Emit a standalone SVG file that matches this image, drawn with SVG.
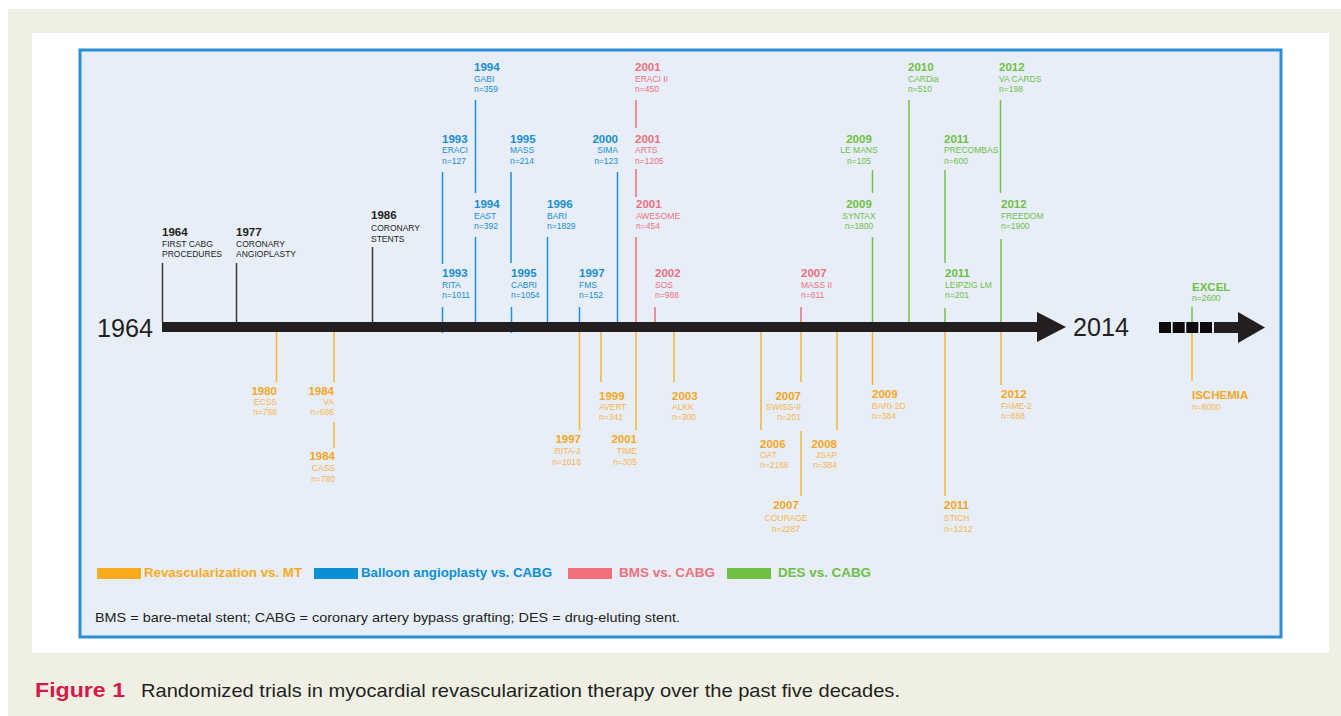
<svg xmlns="http://www.w3.org/2000/svg" width="1341" height="716" viewBox="0 0 1341 716">
<style>
text{font-family:"Liberation Sans",Arial,sans-serif}
.yr{font-weight:bold;font-size:11.5px}
.lb{font-size:8.5px}
.big{font-size:26px;fill:#231f20}
.k{fill:#231f20}
.b{fill:#1a8dd0}
.r{fill:#ef6f7c}
.g{fill:#6fbe45}
.o .yr{fill:#f5a623}
.o .lb{fill:#f7b54a}
.e{text-anchor:end}
.m{text-anchor:middle}
.lk{stroke:#3b3536;stroke-width:1.5}
.lbl{stroke:#1b8fd2;stroke-width:1.5}
.lr{stroke:#ee6f7b;stroke-width:1.5}
.lg{stroke:#75bf4a;stroke-width:1.5}
.lo{stroke:#f8b133;stroke-width:1.5}
.leg{font-weight:bold;font-size:12px}
</style>
<rect x="0" y="0" width="1341" height="716" fill="#ffffff"/>
<rect x="8" y="9" width="1333" height="707" fill="#efefe4"/>
<rect x="32" y="33" width="1297" height="620" fill="#ffffff"/>
<rect x="80" y="50" width="1201" height="587" fill="#e7eef8" stroke="#2a8fd4" stroke-width="3"/>

<g id="connectors" fill="none">
<line class="lk" x1="162.5" y1="263" x2="162.5" y2="322"/>
<line class="lk" x1="236.5" y1="263" x2="236.5" y2="322"/>
<line class="lk" x1="372.5" y1="247" x2="372.5" y2="322"/>
<line class="lbl" x1="475.5" y1="100" x2="475.5" y2="193"/>
<line class="lbl" x1="475.5" y1="237" x2="475.5" y2="322"/>
<line class="lbl" x1="442.5" y1="172" x2="442.5" y2="264"/>
<line class="lbl" x1="442.5" y1="307" x2="442.5" y2="333"/>
<line class="lbl" x1="511" y1="172" x2="511" y2="263"/>
<line class="lbl" x1="511.5" y1="307" x2="511.5" y2="333"/>
<line class="lbl" x1="547.5" y1="237" x2="547.5" y2="322"/>
<line class="lbl" x1="579.5" y1="307" x2="579.5" y2="322"/>
<line class="lbl" x1="617.5" y1="172" x2="617.5" y2="322"/>
<line class="lr" x1="636" y1="100" x2="636" y2="128"/>
<line class="lr" x1="636" y1="169" x2="636" y2="197"/>
<line class="lr" x1="636" y1="237" x2="636" y2="322"/>
<line class="lr" x1="655" y1="307" x2="655" y2="322"/>
<line class="lr" x1="801" y1="307" x2="801" y2="322"/>
<line class="lg" x1="872.5" y1="170" x2="872.5" y2="193"/>
<line class="lg" x1="872.5" y1="237" x2="872.5" y2="322"/>
<line class="lg" x1="909" y1="100" x2="909" y2="322"/>
<line class="lg" x1="945" y1="170" x2="945" y2="263"/>
<line class="lg" x1="945" y1="308" x2="945" y2="322"/>
<line class="lg" x1="1000.5" y1="100" x2="1000.5" y2="193"/>
<line class="lg" x1="1001" y1="239" x2="1001" y2="322"/>
<line class="lg" x1="1192" y1="307" x2="1192" y2="327"/>
<line class="lo" x1="276.5" y1="332" x2="276.5" y2="382"/>
<line class="lo" x1="334" y1="332" x2="334" y2="382"/>
<line class="lo" x1="334" y1="422" x2="334" y2="448"/>
<line class="lo" x1="579.5" y1="332" x2="579.5" y2="430"/>
<line class="lo" x1="601" y1="332" x2="601" y2="382"/>
<line class="lo" x1="636" y1="332" x2="636" y2="430"/>
<line class="lo" x1="674" y1="332" x2="674" y2="382"/>
<line class="lo" x1="761" y1="332" x2="761" y2="430"/>
<line class="lo" x1="801" y1="332" x2="801" y2="382"/>
<line class="lo" x1="801" y1="431" x2="801" y2="496"/>
<line class="lo" x1="837" y1="332" x2="837" y2="430"/>
<line class="lo" x1="872.5" y1="332" x2="872.5" y2="385"/>
<line class="lo" x1="945" y1="332" x2="945" y2="496"/>
<line class="lo" x1="1001" y1="332" x2="1001" y2="385"/>
<line class="lo" x1="1192" y1="327" x2="1192" y2="381"/>
</g>

<g id="timeline">
<rect x="162" y="322" width="876" height="10" fill="#231f20"/>
<polygon points="1037,312 1066,327 1037,342" fill="#231f20"/>
<text class="big" x="97" y="337" textLength="56" lengthAdjust="spacingAndGlyphs">1964</text>
<text class="big" x="1073" y="336" textLength="56" lengthAdjust="spacingAndGlyphs">2014</text>
<rect x="1159" y="322" width="12" height="11" fill="#0d0b0c"/>
<rect x="1172.7" y="322" width="12" height="11" fill="#0d0b0c"/>
<rect x="1186.3" y="322" width="12" height="11" fill="#0d0b0c"/>
<rect x="1200" y="322" width="12" height="11" fill="#0d0b0c"/>
<rect x="1214" y="322" width="26" height="11" fill="#231f20"/>
<polygon points="1238,312 1265,327.5 1238,343" fill="#231f20"/>
</g>

<g id="first-cabg" class="k"><text class="yr" x="162" y="236">1964</text><text class="lb" x="162" y="247">FIRST CABG</text><text class="lb" x="162" y="257">PROCEDURES</text></g>
<g id="coronary-angioplasty" class="k"><text class="yr" x="236" y="236">1977</text><text class="lb" x="236" y="247">CORONARY</text><text class="lb" x="236" y="257">ANGIOPLASTY</text></g>
<g id="coronary-stents" class="k"><text class="yr" x="371" y="219">1986</text><text class="lb" x="371" y="231">CORONARY</text><text class="lb" x="371" y="242">STENTS</text></g>

<g id="gabi" class="b"><text class="yr" x="474" y="71">1994</text><text class="lb" x="474" y="82">GABI</text><text class="lb" x="474" y="92">n=359</text></g>
<g id="east" class="b"><text class="yr" x="474" y="208">1994</text><text class="lb" x="474" y="219">EAST</text><text class="lb" x="474" y="229">n=392</text></g>
<g id="eraci" class="b"><text class="yr" x="442" y="143">1993</text><text class="lb" x="442" y="153">ERACI</text><text class="lb" x="442" y="164">n=127</text></g>
<g id="rita" class="b"><text class="yr" x="442" y="277">1993</text><text class="lb" x="442" y="288">RITA</text><text class="lb" x="442" y="298">n=1011</text></g>
<g id="mass" class="b"><text class="yr" x="510" y="143">1995</text><text class="lb" x="510" y="153">MASS</text><text class="lb" x="510" y="164">n=214</text></g>
<g id="cabri" class="b"><text class="yr" x="511" y="277">1995</text><text class="lb" x="511" y="288">CABRI</text><text class="lb" x="511" y="298">n=1054</text></g>
<g id="bari" class="b"><text class="yr" x="547" y="208">1996</text><text class="lb" x="547" y="219">BARI</text><text class="lb" x="547" y="229">n=1829</text></g>
<g id="fms" class="b"><text class="yr" x="579" y="277">1997</text><text class="lb" x="579" y="288">FMS</text><text class="lb" x="579" y="298">n=152</text></g>
<g id="sima" class="b e"><text class="yr" x="618" y="143">2000</text><text class="lb" x="618" y="153">SIMA</text><text class="lb" x="618" y="164">n=123</text></g>

<g id="eraci-ii" class="r"><text class="yr" x="635" y="71">2001</text><text class="lb" x="635" y="82">ERACI II</text><text class="lb" x="635" y="92">n=450</text></g>
<g id="arts" class="r"><text class="yr" x="635" y="143">2001</text><text class="lb" x="635" y="153">ARTS</text><text class="lb" x="635" y="164">n=1205</text></g>
<g id="awesome" class="r"><text class="yr" x="636" y="208">2001</text><text class="lb" x="636" y="219">AWESOME</text><text class="lb" x="636" y="229">n=454</text></g>
<g id="sos" class="r"><text class="yr" x="655" y="277">2002</text><text class="lb" x="655" y="288">SOS</text><text class="lb" x="655" y="298">n=988</text></g>
<g id="mass-ii" class="r"><text class="yr" x="801" y="277">2007</text><text class="lb" x="801" y="288">MASS II</text><text class="lb" x="801" y="298">n=611</text></g>

<g id="le-mans" class="g m"><text class="yr" x="859" y="143">2009</text><text class="lb" x="859" y="153">LE MANS</text><text class="lb" x="859" y="164">n=105</text></g>
<g id="syntax" class="g m"><text class="yr" x="859" y="208">2009</text><text class="lb" x="859" y="219">SYNTAX</text><text class="lb" x="859" y="229">n=1800</text></g>
<g id="cardia" class="g"><text class="yr" x="908" y="71">2010</text><text class="lb" x="908" y="82">CARDia</text><text class="lb" x="908" y="92">n=510</text></g>
<g id="precombas" class="g"><text class="yr" x="944" y="143">2011</text><text class="lb" x="944" y="153">PRECOMBAS</text><text class="lb" x="944" y="164">n=600</text></g>
<g id="leipzig-lm" class="g"><text class="yr" x="945" y="277">2011</text><text class="lb" x="945" y="288">LEIPZIG LM</text><text class="lb" x="945" y="298">n=201</text></g>
<g id="va-cards" class="g"><text class="yr" x="999" y="71">2012</text><text class="lb" x="999" y="82">VA CARDS</text><text class="lb" x="999" y="92">n=198</text></g>
<g id="freedom" class="g"><text class="yr" x="1001" y="208">2012</text><text class="lb" x="1001" y="219">FREEDOM</text><text class="lb" x="1001" y="229">n=1900</text></g>
<g id="excel" class="g"><text class="yr" x="1192" y="291">EXCEL</text><text class="lb" x="1192" y="301">n=2600</text></g>

<g id="ecss" class="o e"><text class="yr" x="277" y="395">1980</text><text class="lb" x="277" y="405">ECSS</text><text class="lb" x="277" y="415">n=768</text></g>
<g id="va" class="o e"><text class="yr" x="334" y="395">1984</text><text class="lb" x="334" y="405">VA</text><text class="lb" x="334" y="415">n=686</text></g>
<g id="cass" class="o e"><text class="yr" x="335" y="460">1984</text><text class="lb" x="335" y="471">CASS</text><text class="lb" x="335" y="482">n=780</text></g>
<g id="rita-2" class="o e"><text class="yr" x="581" y="443">1997</text><text class="lb" x="581" y="454">RITA-2</text><text class="lb" x="581" y="465">n=1018</text></g>
<g id="avert" class="o"><text class="yr" x="599" y="400">1999</text><text class="lb" x="599" y="410">AVERT</text><text class="lb" x="599" y="420">n=341</text></g>
<g id="time" class="o e"><text class="yr" x="637" y="443">2001</text><text class="lb" x="637" y="454">TIME</text><text class="lb" x="637" y="465">n=305</text></g>
<g id="alkk" class="o"><text class="yr" x="672" y="400">2003</text><text class="lb" x="672" y="410">ALKK</text><text class="lb" x="672" y="420">n=300</text></g>
<g id="oat" class="o"><text class="yr" x="760" y="448">2006</text><text class="lb" x="760" y="458">OAT</text><text class="lb" x="760" y="468">n=2166</text></g>
<g id="swiss-ii" class="o e"><text class="yr" x="801" y="400">2007</text><text class="lb" x="801" y="410">SWISS-II</text><text class="lb" x="801" y="420">n=201</text></g>
<g id="courage" class="o m"><text class="yr" x="786" y="509">2007</text><text class="lb" x="786" y="521">COURAGE</text><text class="lb" x="786" y="532">n=2287</text></g>
<g id="jsap" class="o e"><text class="yr" x="837" y="448">2008</text><text class="lb" x="837" y="458">JSAP</text><text class="lb" x="837" y="468">n=384</text></g>
<g id="bari-2d" class="o"><text class="yr" x="872" y="398">2009</text><text class="lb" x="872" y="409">BARI-2D</text><text class="lb" x="872" y="419">n=384</text></g>
<g id="stich" class="o"><text class="yr" x="944" y="509">2011</text><text class="lb" x="944" y="521">STICH</text><text class="lb" x="944" y="532">n=1212</text></g>
<g id="fame-2" class="o"><text class="yr" x="1001" y="398">2012</text><text class="lb" x="1001" y="409">FAME-2</text><text class="lb" x="1001" y="419">n=888</text></g>
<g id="ischemia" class="o"><text class="yr" x="1192" y="399">ISCHEMIA</text><text class="lb" x="1192" y="410">n=8000</text></g>

<g id="legend">
<rect x="97" y="568" width="44" height="11" fill="#f8ab1d"/>
<text class="leg" x="144" y="577" fill="#f8ab1d" textLength="158" lengthAdjust="spacingAndGlyphs">Revascularization vs. MT</text>
<rect x="314" y="568" width="44" height="11" fill="#0a8fd6"/>
<text class="leg" x="361" y="577" fill="#0a8fd6" textLength="191" lengthAdjust="spacingAndGlyphs">Balloon angioplasty vs. CABG</text>
<rect x="568" y="568" width="44" height="11" fill="#f0707b"/>
<text class="leg" x="619" y="577" fill="#f0707b" textLength="96" lengthAdjust="spacingAndGlyphs">BMS vs. CABG</text>
<rect x="727" y="568" width="44" height="11" fill="#6fbf45"/>
<text class="leg" x="778" y="577" fill="#6fbf45" textLength="93" lengthAdjust="spacingAndGlyphs">DES vs. CABG</text>
</g>

<g id="footnote"><text x="95" y="622" font-size="13.5" fill="#231f20" textLength="585" lengthAdjust="spacingAndGlyphs">BMS = bare-metal stent; CABG = coronary artery bypass grafting; DES = drug-eluting stent.</text></g>

<g id="caption">
<text x="35" y="697" font-size="20" font-weight="bold" fill="#d6194b" textLength="90" lengthAdjust="spacingAndGlyphs">Figure 1</text>
<text x="141" y="697" font-size="19" fill="#231f20" textLength="759" lengthAdjust="spacingAndGlyphs">Randomized trials in myocardial revascularization therapy over the past five decades.</text>
</g>
</svg>
